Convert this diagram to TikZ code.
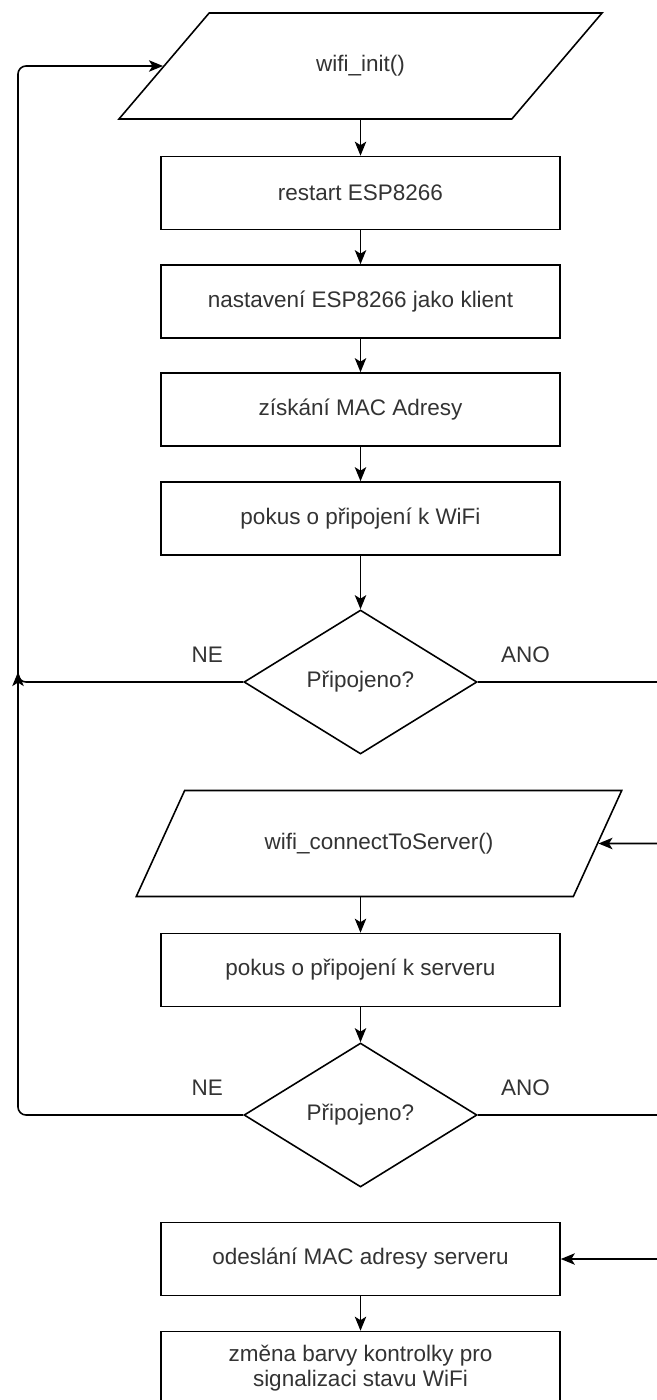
\documentclass[tikz,border=0pt]{standalone}
\usepackage{fontspec}
\setmainfont{Liberation Sans}
\usepackage{tikz}
\usetikzlibrary{positioning}
\usetikzlibrary{arrows.meta}
\usetikzlibrary{shapes.geometric}
\usepackage{xcolor}

\begin{document}
\begin{tikzpicture}[node distance=2.17cm,
    every node/.style={font=\fontsize{12.8}{14.5}\selectfont, text=black!80},
    box/.style={draw, rectangle, line width=0.9pt, minimum width=7.98cm, minimum height=1.46cm, align=center},
    io/.style={draw, trapezium, trapezium left angle=47.5, trapezium right angle=132.5, trapezium stretches=true, line width=0.9pt, minimum width=9.72cm, minimum height=2.12cm},
    dec/.style={draw, diamond, line width=0.9pt, minimum width=4.66cm, minimum height=2.88cm, inner sep=0pt},
    lbl/.style={inner sep=0pt},
    arr/.style={-{Stealth[length=8pt, width=6.5pt, inset=2pt]}, line width=0.9pt}]
    % Canvas
    \fill[white] (0,0) rectangle (13.14,-28);
    \path[use as bounding box] (0,0) rectangle (13.14,-28);
    \clip (0,0) rectangle (13.14,-28);

    % Nodes representing the steps
    \node (in1) [io] at (7.21,-1.32) {wifi\_init()};
    \node (restart) [box, below of=in1, node distance=2.54cm] {restart ESP8266};
    \node (klient) [box, below of=restart] {nastavení ESP8266 jako klient};
    \node (mac) [box, below of=klient, node distance=2.16cm] {získání MAC Adresy};
    \node (wifi) [box, below of=mac, node distance=2.18cm] {pokus o připojení k WiFi};
    \node (dec1) [dec, below of=wifi, node distance=3.27cm] {Připojeno?};
    \node (in2) [io, below of=dec1, node distance=3.23cm, xshift=0.37cm] {wifi\_connectToServer()};
    \node (server) [box, below of=in2, node distance=2.53cm, xshift=-0.37cm] {pokus o připojení k serveru};
    \node (dec2) [dec, below of=server, node distance=2.9cm] {Připojeno?};
    \node (send) [box, below of=dec2, node distance=2.88cm] {odeslání MAC adresy serveru};
    \node (led) [box, below of=send, node distance=2.18cm] {změna barvy kontrolky pro\\signalizaci stavu WiFi};

    % Labels of the branches
    \node (ne1) [lbl, left=0.4cm of dec1.west, yshift=0.54cm] {NE};
    \node (ano1) [lbl, right=0.46cm of dec1.east, yshift=0.54cm] {ANO};
    \node (ne2) [lbl, left=0.4cm of dec2.west, yshift=0.54cm] {NE};
    \node (ano2) [lbl, right=0.46cm of dec2.east, yshift=0.54cm] {ANO};

    % Side lines
    \coordinate (lside) at (0.36,0);
    \coordinate (rside) at (13.6,0);
    \coordinate (join) at (0.36,-13.44);

    % Arrows showing order
    \draw[arr] (in1.south -| restart.north) -- (restart.north);
    \draw[arr] (restart.south) -- (klient.north);
    \draw[arr] (klient.south) -- (mac.north);
    \draw[arr] (mac.south) -- (wifi.north);
    \draw[arr] (wifi.south) -- (dec1.north);
    \draw[arr] (in2.south -| server.north) -- (server.north);
    \draw[arr] (server.south) -- (dec2.north);
    \draw[arr] (send.south) -- (led.north);

    % Arrows of the branches
    \draw[arr, rounded corners=0.16cm] (dec1.west) -| (lside |- in1.west) -- (in1.west);
    \draw[arr, rounded corners=0.16cm] (dec2.west) -| (join);
    \draw[arr, rounded corners=0.16cm] (dec1.east) -| (rside |- in2.east) -- (in2.east);
    \draw[arr, rounded corners=0.16cm] (dec2.east) -| (rside |- send.east) -- (send.east);
\end{tikzpicture}
\end{document}
